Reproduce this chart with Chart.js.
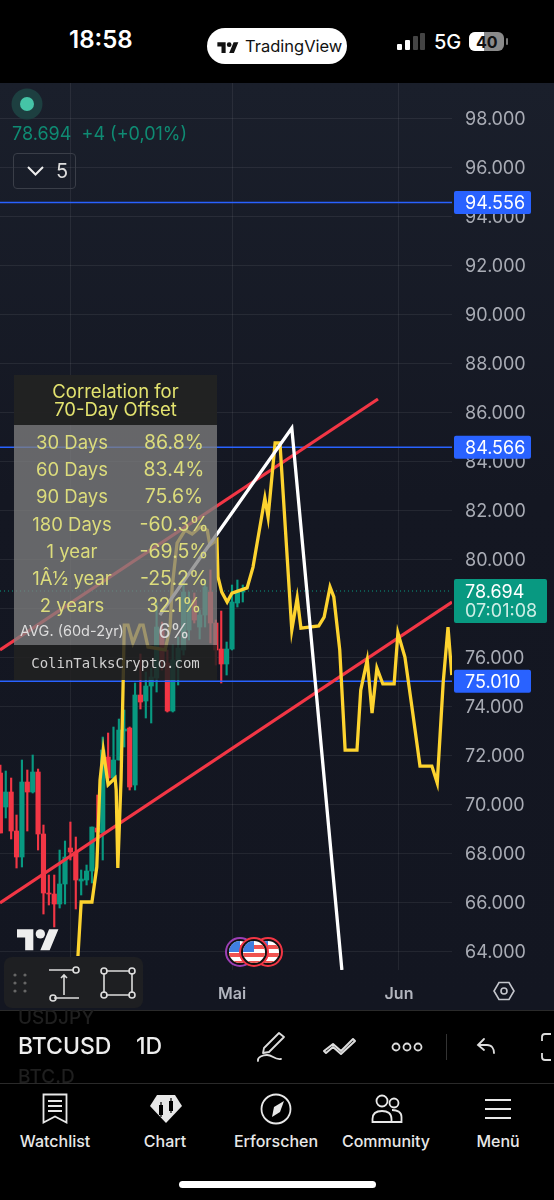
<!DOCTYPE html>
<html>
<head>
<meta charset="utf-8">
<title>BTCUSD</title>
<script src="https://cdn.jsdelivr.net/npm/chart.js@4/dist/chart.umd.min.js"></script>
<style>
  html, body { margin: 0; background: #000; }
  body { width: 554px; height: 1200px; position: relative; overflow: hidden; font-family: Inter, "Noto Sans", sans-serif; color: #fff; }
  .abs { position: absolute; white-space: nowrap; line-height: 1; }
  #plot { position: absolute; left: 0; top: 83px; width: 554px; height: 927px; background: linear-gradient(#1a1f2b, #141722 45%, #131621); }
  canvas { display: block; }
  #corr { position: absolute; left: 14px; top: 375px; width: 203px; height: 305px; color: #e3e36f; font-size: 18.5px; }
  #corr .head { position: absolute; left: 0; top: 0; width: 100%; height: 50px; background: rgba(34,34,34,.96); text-align: center; line-height: 18px; padding-top: 7px; box-sizing: border-box; }
  #corr .grey { position: absolute; left: 0; top: 50px; width: 100%; height: 220px; background: rgba(128,128,128,.76); color: #dcdc7c; }
  #corr .foot { position: absolute; left: 0; top: 270px; width: 100%; height: 35px; background: rgba(34,34,34,.86); color: #d0d0d0; font: 14px "DejaVu Sans Mono", monospace; text-align: center; line-height: 36px; }
  #corr .c1, #corr .c2 { position: absolute; text-align: center; white-space: nowrap; line-height: 20px; }
  #corr .c1 { left: 0; width: 116px; }
  #corr .c2 { left: 108px; width: 104px; font-size: 19.5px; }
  .nav { position: absolute; top: 1133px; width: 110px; text-align: center; font-size: 16px; font-weight: 500; color: #e8e8e8; line-height: 1; }
  svg { position: absolute; overflow: visible; }
</style>
</head>
<body>

<!-- status bar -->
<div class="abs" style="left:69px;top:28px;font-size:24px;font-weight:600">18:58</div>
<div style="position:absolute;left:207px;top:28px;width:140px;height:36px;border-radius:18px;background:#fff"></div>
<svg style="left:217px;top:40px" width="22" height="13" viewBox="0 0 36 22"><path fill="#111" d="M14 22H7V11H0V4h14v18zM28 22h-8l7.5-18h8L28 22z"/><circle fill="#111" cx="20" cy="8" r="4"/></svg>
<div class="abs" style="left:245px;top:38px;font-size:16.5px;color:#111">TradingView</div>
<svg style="left:397px;top:33px" width="30" height="18"><rect x="0" y="11" width="5" height="6" rx="1" fill="#fff"/><rect x="8" y="7" width="5" height="10" rx="1" fill="#fff"/><rect x="16" y="3" width="5" height="14" rx="1" fill="#444"/><rect x="23" y="0" width="5" height="17" rx="1" fill="#444"/></svg>
<div class="abs" style="left:434px;top:32px;font-size:20px;font-weight:500">5G</div>
<div style="position:absolute;left:469px;top:32px;width:35px;height:19px;border-radius:6px;overflow:hidden;background:#8a8a8a"><div style="width:15px;height:19px;background:#fff"></div></div>
<div class="abs" style="left:476px;top:34px;font-size:16px;font-weight:700;color:#111">40</div>
<div style="position:absolute;left:506px;top:38px;width:2px;height:7px;background:#777;border-radius:1px"></div>

<!-- chart -->
<div id="plot"><canvas id="btcChart" width="554" height="927"></canvas></div>

<!-- legend, top left -->
<svg style="left:11px;top:89px" width="32" height="32"><circle cx="16" cy="15" r="15.5" fill="#1d3f40"/><circle cx="16" cy="15" r="7" fill="#45c4a6"/></svg>
<div class="abs" style="left:12px;top:125px;font-size:18px;color:#0f8b73">78.694&nbsp; +4 (+0,01%)</div>
<div style="position:absolute;left:13px;top:153px;width:61px;height:34px;border:1.5px solid #3a3e48;border-radius:4px"></div>
<svg style="left:26px;top:165px" width="20" height="12"><path d="M2 2l7.5 7.5L17 2" fill="none" stroke="#eee" stroke-width="2"/></svg>
<div class="abs" style="left:56px;top:161px;font-size:20px;color:#ddd">5</div>

<!-- correlation table -->
<div id="corr">
  <div class="head">Correlation for<br>70-Day Offset</div>
  <div class="grey" id="corrRows"></div>
  <div class="foot">ColinTalksCrypto.com</div>
</div>

<!-- tradingview mark and event flags -->
<svg style="left:17px;top:929px" width="42" height="22" viewBox="0 0 36 18.5"><g transform="translate(0,-4)"><path fill="#eee" d="M14 22H7V11H0V4h14v18zM28 22h-8l7.5-18h8L28 22z"/><circle fill="#eee" cx="20" cy="8" r="4"/></g></svg>
<svg style="left:228px;top:936px" width="60" height="32" id="flags"></svg>

<!-- drawing toolbar -->
<div style="position:absolute;left:4px;top:957px;width:139px;height:51px;border-radius:8px;background:#1e1f22"></div>
<svg style="left:4px;top:957px" width="139" height="51" fill="none" stroke="#ddd" stroke-width="1.6">
  <g fill="#666" stroke="none"><circle cx="11" cy="18" r="1.6"/><circle cx="21" cy="18" r="1.6"/><circle cx="11" cy="26" r="1.6"/><circle cx="21" cy="26" r="1.6"/><circle cx="11" cy="34" r="1.6"/><circle cx="21" cy="34" r="1.6"/></g>
  <path d="M45 13h25M50 41h25M60 38V18M57 21l3-3 3 3"/><circle cx="72" cy="13" r="3"/><circle cx="49" cy="41" r="3"/>
  <path d="M102 14h24M102 38h24M100 16v20M128 16v20"/><circle cx="100" cy="14" r="3"/><circle cx="128" cy="14" r="3"/><circle cx="100" cy="38" r="3"/><circle cx="128" cy="38" r="3"/>
</svg>
<svg style="left:494px;top:981px" width="20" height="20" fill="none" stroke="#c4c6cc" stroke-width="1.6"><path d="M5 1.5h10L20 10l-5 8.5H5L0 10z"/><circle cx="10" cy="10" r="3"/></svg>

<!-- symbol bar -->
<div style="position:absolute;left:0;top:1010px;width:554px;height:1px;background:#2a2a2a"></div>
<div class="abs" style="left:18px;top:1008px;font-size:19px;color:#1f1f1f;font-weight:500">USDJPY</div>
<div class="abs" style="left:18px;top:1035px;font-size:23px;font-weight:500;color:#eee;width:94px;overflow:hidden;-webkit-mask-image:linear-gradient(90deg,#000 72%,#333)">BTCUSD</div>
<div class="abs" style="left:136px;top:1035px;font-size:23px;font-weight:500;color:#eee">1D</div>
<div class="abs" style="left:18px;top:1067px;font-size:19px;color:#1f1f1f;font-weight:500">BTC.D</div>
<div style="position:absolute;left:0;top:1083px;width:554px;height:1px;background:#2a2a2a"></div>
<svg style="left:256px;top:1030px" width="34" height="34" fill="none" stroke="#ddd" stroke-width="1.8" stroke-linecap="round" stroke-linejoin="round"><path d="M8 18L23 3l5 4-15 15-6 1z"/><path d="M2 31c-1-4 5-6 9-6 6 0 7 5 14 4"/></svg>
<svg style="left:322px;top:1035px" width="34" height="24" fill="none" stroke="#ddd" stroke-width="2" stroke-linejoin="round"><path d="M2 16l9-7 8 7 12-12 2 2-14 13-8-7-7 6z"/></svg>
<svg style="left:391px;top:1040px" width="32" height="14" fill="none" stroke="#ddd" stroke-width="1.8"><circle cx="5" cy="7" r="3.5"/><circle cx="16" cy="7" r="3.5"/><circle cx="27" cy="7" r="3.5"/></svg>
<div style="position:absolute;left:446px;top:1034px;width:1px;height:26px;background:#333"></div>
<svg style="left:476px;top:1037px" width="20" height="18" fill="none" stroke="#ddd" stroke-width="1.8" stroke-linecap="round"><path d="M8 2L2 8l6 5M2 8h9c5 0 7 4 7 8"/></svg>
<svg style="left:539px;top:1032px" width="15" height="30" fill="none" stroke="#ddd" stroke-width="1.8"><path d="M12 2H6a3 3 0 0 0-3 3v4M3 21v4a3 3 0 0 0 3 3h6"/></svg>

<!-- bottom navigation -->
<svg style="left:42px;top:1093px" width="26" height="32" fill="none" stroke="#e8e8e8" stroke-width="1.8"><path d="M1.5 1.5h23v28l-11.5-6-11.5 6z"/><path d="M6 8h14M6 13h14M6 18h14"/></svg>
<svg style="left:149px;top:1094px" width="34" height="30"><path d="M8 1h18l7 11-16 17L1 12z" fill="#e8e8e8"/><g fill="#000"><rect x="10" y="11" width="4" height="10"/><rect x="11.4" y="8" width="1.2" height="15"/><rect x="20" y="7" width="4" height="10"/><rect x="21.4" y="4" width="1.2" height="15"/></g></svg>
<svg style="left:260px;top:1093px" width="32" height="32" fill="none" stroke="#e8e8e8" stroke-width="1.8"><circle cx="16" cy="16" r="14.5"/><path d="M24 8l-4 11-8 5 2-10z" fill="#e8e8e8" stroke="none"/></svg>
<svg style="left:371px;top:1094px" width="32" height="30" fill="none" stroke="#e8e8e8" stroke-width="1.8"><circle cx="11" cy="7" r="5.5"/><circle cx="23" cy="9" r="4.5"/><path d="M1.5 28v-3c0-6 4-8 9.5-8s9.5 2 9.5 8v3zM21 16c5 0 9.5 2 9.5 7v5H21"/></svg>
<svg style="left:485px;top:1098px" width="26" height="22" stroke="#e8e8e8" stroke-width="2"><path d="M0 2h26M0 11h26M0 20h26"/></svg>
<div class="nav" style="left:0">Watchlist</div>
<div class="nav" style="left:110px">Chart</div>
<div class="nav" style="left:221px">Erforschen</div>
<div class="nav" style="left:331px">Community</div>
<div class="nav" style="left:443px">Menü</div>
<div style="position:absolute;left:179px;top:1181px;width:197px;height:7px;border-radius:4px;background:#fff"></div>

<script>
// candles, day 0 is 1 May
const candleDays = [-43,-42,-41,-40,-39,-38,-37,-36,-35,-34,-33,-32,-31,-30,-29,-28,-27,-26,-25,-24,-23,-22,-21,-20,-19,-18,-17,-16,-15,-14,-13,-12,-11,-10,-9,-8,-7,-6,-5,-4,-3,-2,-1,0,1,2];
const opens  = [71265,69877,70490,68898,67837,70898,70490,71306,68775,66367,66326,65918,66735,68204,68041,66857,66898,67265,69020,68817,71918,71061,71796,72979,73102,70775,74449,74204,74816,75143,77102,75755,73796,75755,76286,77102,78326,77224,77714,78653,77388,76326,75714,76326,78204,78653];
const closes = [68817,70490,68898,67837,70898,70490,71306,68775,66367,66326,65918,66735,67837,68041,66898,66939,67265,69061,68857,72204,71061,71796,73020,73061,70694,74449,74163,74816,75184,77224,75796,73796,75877,76367,78653,78326,77510,77714,78857,77388,76286,75714,76326,78245,78653,78694];
const highs  = [71592,71347,71061,69551,71796,71388,72000,71428,69143,67102,67102,68122,68490,69265,68653,67306,67510,69061,70367,72735,72898,73143,73469,73837,73143,74939,76122,75388,75551,78204,77428,76286,76490,76816,79265,78653,78612,77918,79143,79551,77510,77877,76612,78939,79143,78939];
const lows   = [68817,69429,68571,67388,67429,68898,70449,68122,65510,65878,64980,65755,65918,67714,65714,66286,66694,66776,68326,67714,70775,71061,71796,72326,70571,70571,73877,73510,73306,74571,75469,73755,73755,74857,76082,76694,77388,76735,77224,76571,75673,74939,75265,76286,78041,78245];

// yellow projection line
const yellowDays = [-28.6,-28,-26,-25.1,-24.5,-23.9,-23,-21.7,-21.5,-21.2,-20.6,-20.2,-20,-19.3,-18.4,-17.1,-16.5,-15.6,-12.4,-11.5,-11.1,-10.2,-8.7,-7.4,-5.9,-4.6,-4.1,-2.8,-2.6,-1.9,-0.9,0,2.8,3.9,6.1,6.7,8,8.9,11.1,12.1,12.8,16.1,17.1,18.2,18.9,20,21,23.2,23.9,25.1,26,26.9,28,30.1,30.8,32.1,33.4,34.9,37.1,38.1,39.2,40.1,40.8];
const yellowPrices = [63796,66000,66000,67430,70980,72200,70780,71060,70570,67390,70980,75060,77300,77300,76570,77300,77300,76410,76290,77220,78860,80650,81180,81020,81310,81180,80570,80780,79265,78650,78245,78610,78820,79670,82490,81710,84735,84735,77100,78410,77180,77270,77630,78860,78450,76290,72200,72200,74650,75880,73710,75550,74900,74900,76980,76000,73960,71550,71550,70860,74940,77220,75265];

// drawn lines
const whiteDays = [-13.4,11.1,20.4];
const whitePrices = [77714,85347,63225];
const upperTrendDays = [-43.07,27.1];
const upperTrendPrices = [76286,86530];
const lowerTrendDays = [-43.07,40.84];
const lowerTrendPrices = [65960,78245];
const levels = [94556,84566,75010];
const lastPrice = 78694;
const countdown = '07:01:08';

// axes
const priceTicks = [64000,66000,68000,70000,72000,74000,76000,78000,80000,82000,84000,86000,88000,90000,92000,94000,96000,98000];
const monthDays = [-30,0,31];
const monthLabels = ['','Mai','Jun'];
const dayMin = -43.07, dayMax = 40.84, priceMin = 63225, priceMax = 99429;

// correlation table
const corrNames = ['30 Days','60 Days','90 Days','180 Days','1 year','1Â½ year','2 years'];
const corrValues = ['86.8%','83.4%','75.6%','-60.3%','-69.5%','-25.2%','32.1%'];
const avgName = 'AVG. (60d-2yr)';
const avgValue = '6%';

const GREEN = '#089981', RED = '#f23645', YELLOW = '#fdd32f', BLUE = '#2962ff';
const fmtPrice = v => Math.floor(v / 1000) + '.' + String(v % 1000).padStart(3, '0');
const pairs = (xs, ys) => xs.map((x, i) => ({ x: x, y: ys[i] }));
const isUp = i => closes[i] >= opens[i];

function lineSet(data, color, width, order, dash) {
    return { type: 'line', data: data, borderColor: color, borderWidth: width, borderDash: dash || [], pointRadius: 0, tension: 0, order: order, borderJoinStyle: 'miter' };
}

function levelLine(v, color, width, dash) {
    return lineSet([{ x: dayMin, y: v }, { x: dayMax, y: v }], color, width, 4, dash);
}

const rows = document.getElementById('corrRows');
let rowsHtml = '';
corrNames.forEach(function (name, i) {
    const top = 7 + i * 27.2;
    rowsHtml += '<div class="c1" style="top:' + top + 'px">' + name + '</div><div class="c2" style="top:' + top + 'px">' + corrValues[i] + '</div>';
});
rowsHtml += '<div class="c1" style="top:196px;font-size:14.5px;color:#ddd">' + avgName + '</div><div class="c2" style="top:196px;color:#d8d8d8">' + avgValue + '</div>';
rows.innerHTML = rowsHtml;

// little event flags above the time axis
const flagCentres = [[12, '#9c3fb5'], [40, RED], [26, RED]];
let flagSvg = '';
flagCentres.forEach(function (f) {
    const cx = f[0], id = 'f' + cx;
    flagSvg += '<clipPath id="' + id + '"><circle cx="' + cx + '" cy="16" r="11"/></clipPath>'
        + '<circle cx="' + cx + '" cy="16" r="14" fill="#111" stroke="' + f[1] + '" stroke-width="2"/>'
        + '<g clip-path="url(#' + id + ')"><rect x="' + (cx - 11) + '" y="5" width="22" height="22" fill="#fff"/>'
        + '<rect x="' + (cx - 11) + '" y="9" width="22" height="4" fill="#ef5350"/><rect x="' + (cx - 11) + '" y="17" width="22" height="4" fill="#ef5350"/><rect x="' + (cx - 11) + '" y="25" width="22" height="3" fill="#ef5350"/>'
        + '<rect x="' + (cx - 11) + '" y="5" width="11" height="11" fill="#3f7fe0"/></g>';
});
document.getElementById('flags').innerHTML = flagSvg;

// price tags on the right axis
const priceTags = {
    id: 'priceTags',
    afterDraw: function (chart) {
        const ctx = chart.ctx, y = chart.scales.y;
        ctx.save();
        ctx.textAlign = 'left';
        ctx.textBaseline = 'middle';
        ctx.font = '18px Inter';
        levels.forEach(function (v) {
            const py = y.getPixelForValue(v);
            ctx.fillStyle = BLUE;
            ctx.beginPath();
            ctx.roundRect(454, py - 11.5, 77, 23, 2);
            ctx.fill();
            ctx.fillStyle = '#fff';
            ctx.fillText(fmtPrice(v), 465, py + 1);
        });
        const py = y.getPixelForValue(lastPrice);
        ctx.fillStyle = GREEN;
        ctx.beginPath();
        ctx.roundRect(454, py - 12, 93, 44, 2);
        ctx.fill();
        ctx.fillStyle = '#fff';
        ctx.fillText(fmtPrice(lastPrice), 465, py + 1.5);
        ctx.fillStyle = '#cfeee6';
        ctx.fillText(countdown, 465, py + 20.5);
        ctx.restore();
    }
};

new Chart(document.getElementById('btcChart').getContext('2d'), {
    data: {
        datasets: [
            lineSet(pairs(yellowDays, yellowPrices), YELLOW, 3.3, 2),
            lineSet(pairs(whiteDays, whitePrices), '#ffffff', 3.3, 1),
            lineSet(pairs(upperTrendDays, upperTrendPrices), RED, 3.2, 3),
            lineSet(pairs(lowerTrendDays, lowerTrendPrices), RED, 3.2, 3),
            levelLine(levels[0], BLUE, 1.5),
            levelLine(levels[1], BLUE, 1.5),
            levelLine(levels[2], BLUE, 1.5),
            levelLine(lastPrice, GREEN, 1, [1, 3]),
            {
                type: 'bar',
                grouped: false,
                order: 5,
                barThickness: 4.5,
                minBarLength: 1,
                data: candleDays.map((d, i) => ({ x: d, y: [opens[i], closes[i]] })),
                backgroundColor: ctx => isUp(ctx.dataIndex) ? GREEN : RED
            },
            {
                type: 'bar',
                grouped: false,
                order: 6,
                barThickness: 1.5,
                data: candleDays.map((d, i) => ({ x: d, y: [lows[i], highs[i]] })),
                backgroundColor: ctx => isUp(ctx.dataIndex) ? GREEN : RED
            }
        ]
    },
    options: {
        responsive: false,
        animation: false,
        events: [],
        layout: { padding: 0 },
        plugins: { legend: { display: false }, tooltip: { enabled: false } },
        scales: {
            x: {
                type: 'linear',
                offset: false,
                min: dayMin,
                max: dayMax,
                afterBuildTicks: axis => { axis.ticks = monthDays.map(v => ({ value: v })); },
                afterFit: axis => { axis.height = 40; },
                grid: { color: 'rgba(255,255,255,.07)', drawTicks: false, offset: false },
                border: { display: false },
                ticks: {
                    autoSkip: false,
                    maxRotation: 0,
                    padding: 15,
                    color: '#b2b5be',
                    font: { family: 'Inter', size: 16, weight: '600' },
                    callback: v => monthLabels[monthDays.indexOf(v)]
                }
            },
            y: {
                position: 'right',
                min: priceMin,
                max: priceMax,
                afterBuildTicks: axis => { axis.ticks = priceTicks.map(v => ({ value: v })); },
                // the plot runs right up to the top of the canvas
                afterFit: axis => { axis.width = 102; axis.paddingTop = 0; axis.paddingBottom = 0; },
                grid: { color: 'rgba(255,255,255,.07)', drawTicks: false },
                border: { display: false },
                ticks: {
                    padding: 13,
                    labelOffset: 1.5,
                    color: '#a9acb5',
                    font: { family: 'Inter', size: 18 },
                    callback: v => fmtPrice(v)
                }
            }
        }
    },
    plugins: [priceTags]
});
</script>
</body>
</html>
